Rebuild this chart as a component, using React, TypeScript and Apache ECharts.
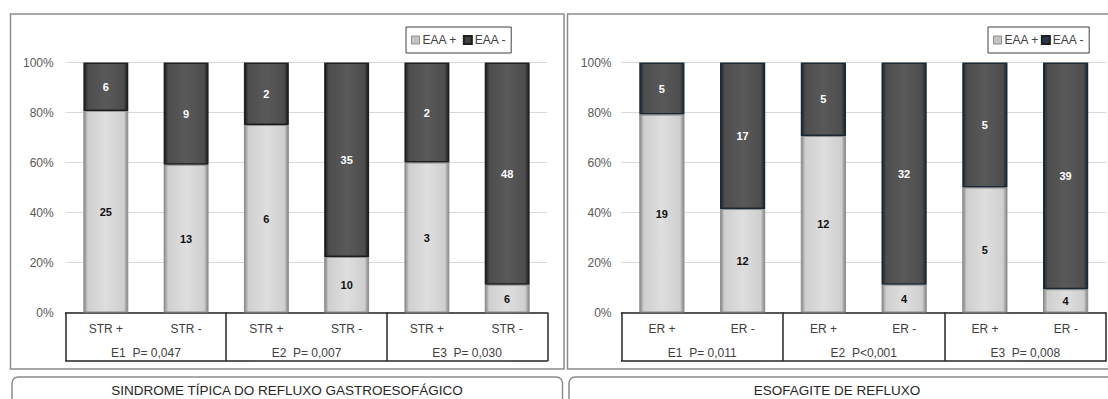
import React, { useEffect, useRef } from "react";
import * as echarts from "echarts";

// Sub-group labels (first row of the data table) and group labels (second row)
const STR_CATEGORIES = ["STR +", "STR -", "STR +", "STR -", "STR +", "STR -"];
const STR_GROUPS = ["E1  P= 0,047", "E2  P= 0,007", "E3  P= 0,030"];
const ER_CATEGORIES = ["ER +", "ER -", "ER +", "ER -", "ER +", "ER -"];
const ER_GROUPS = ["E1  P= 0,011", "E2  P<0,001", "E3  P= 0,008"];

// Patient counts per bar
const STR_EAA_POS = [25, 13, 6, 10, 3, 6];
const STR_EAA_NEG = [6, 9, 2, 35, 2, 48];
const ER_EAA_POS = [19, 12, 12, 4, 5, 4];
const ER_EAA_NEG = [5, 17, 5, 32, 5, 39];

const SERIES_NAMES = ["EAA +", "EAA -"];
const PANEL_TITLES = ["SINDROME TÍPICA DO REFLUXO GASTROESOFÁGICO", "ESOFAGITE DE REFLUXO"];

// Layout of the two panels (pixels)
const PLOT_TOP = 62.5;
const PLOT_HEIGHT = 250;
const TABLE_HEIGHT = 48.5;
const PANELS = [
  { left: 65.7, width: 481.6, labelMargin: 12, legendLeft: 406, frameX: 10.5, frameW: 553.5, titleX: 287 },
  { left: 621.5, width: 484.5, labelMargin: 10, legendLeft: 988, frameX: 567.5, frameW: 560, titleX: 837 },
];

const FONT = "Arial, 'Liberation Sans', sans-serif";

// horizontal gradient giving the bars a bevelled look
const bevel = (edge: string, mid: string, face: string) =>
  new echarts.graphic.LinearGradient(1, 0, 0, 0, [
    { offset: 0, color: edge },
    { offset: 0.09, color: mid },
    { offset: 0.5, color: face },
    { offset: 0.91, color: mid },
    { offset: 1, color: edge },
  ]);

const share = (a: number[], b: number[]) => a.map((v, i) => (v / (v + b[i])) * 100);

export default function App() {
  const ref = useRef<HTMLDivElement>(null);

  useEffect(() => {
    if (!ref.current) return;
    const chart = echarts.init(ref.current, undefined, { renderer: "svg" });

    const panelsData = [
      { cats: STR_CATEGORIES, groups: STR_GROUPS, pos: STR_EAA_POS, neg: STR_EAA_NEG, darkEdge: "#1e1e1e" },
      { cats: ER_CATEGORIES, groups: ER_GROUPS, pos: ER_EAA_POS, neg: ER_EAA_NEG, darkEdge: "#1c2735" },
    ];

    const grid: any[] = [];
    const xAxis: any[] = [];
    const yAxis: any[] = [];
    const series: any[] = [];
    const legend: any[] = [];
    const graphic: any[] = [];

    panelsData.forEach((pd, p) => {
      const layout = PANELS[p];
      grid.push({ left: layout.left, width: layout.width, top: PLOT_TOP, height: PLOT_HEIGHT });

      // first table row: sub-group labels, axis line forms the table top
      xAxis.push({
        type: "category",
        gridIndex: p,
        data: pd.cats,
        position: "bottom",
        axisLine: { show: true, lineStyle: { color: "#262626", width: 1.5 } },
        axisTick: { show: false },
        axisLabel: { margin: 10, fontSize: 12, color: "#404040", fontFamily: FONT },
      });
      // second table row: group labels, ticks form the dividers, line forms the table bottom
      xAxis.push({
        type: "category",
        gridIndex: p,
        data: pd.groups,
        position: "bottom",
        offset: TABLE_HEIGHT,
        axisLine: { show: true, lineStyle: { color: "#262626", width: 1.5 } },
        axisTick: { show: true, inside: true, length: TABLE_HEIGHT, lineStyle: { color: "#262626", width: 1.5 } },
        axisLabel: { inside: true, margin: 2, fontSize: 12, color: "#404040", fontFamily: FONT },
      });

      yAxis.push({
        type: "value",
        gridIndex: p,
        min: 0,
        max: 100,
        interval: 20,
        axisLine: { show: false },
        axisTick: { show: false },
        axisLabel: { formatter: "{value}%", fontSize: 12, color: "#595959", margin: layout.labelMargin, fontFamily: FONT },
        splitLine: { lineStyle: { color: "#d9d9d9", width: 1 } },
      });

      const posPct = share(pd.pos, pd.neg);
      const negPct = share(pd.neg, pd.pos);

      series.push({
        name: SERIES_NAMES[0],
        type: "bar",
        xAxisIndex: 2 * p,
        yAxisIndex: p,
        stack: "panel" + p,
        barWidth: "56%",
        data: posPct,
        itemStyle: {
          color: bevel("#858585", "#cfcfcf", "#dedede"),
          borderColor: "#8f8f8f",
          borderWidth: 1,
        },
        label: {
          show: true,
          position: "inside",
          formatter: (prm: any) => String(pd.pos[prm.dataIndex]),
          color: "#111111",
          fontWeight: "bold",
          fontSize: 11,
          fontFamily: FONT,
        },
      });
      series.push({
        name: SERIES_NAMES[1],
        type: "bar",
        xAxisIndex: 2 * p,
        yAxisIndex: p,
        stack: "panel" + p,
        barWidth: "56%",
        data: negPct,
        itemStyle: {
          color: bevel(pd.darkEdge, "#4d4d4d", "#595959"),
          borderColor: pd.darkEdge,
          borderWidth: 1.5,
        },
        label: {
          show: true,
          position: "inside",
          formatter: (prm: any) => String(pd.neg[prm.dataIndex]),
          color: "#ffffff",
          fontWeight: "bold",
          fontSize: 11,
          fontFamily: FONT,
        },
      });

      legend.push({
        left: layout.legendLeft,
        top: 27,
        orient: "horizontal",
        padding: [7, 5, 7, 5],
        itemWidth: 8,
        itemHeight: 8,
        itemGap: p === 0 ? 6 : 2,
        icon: "rect",
        borderColor: "#404040",
        borderWidth: 1,
        selectedMode: false,
        textStyle: { fontSize: 12, color: "#404040", fontFamily: FONT, padding: [0, 0, 0, -2] },
        data: [
          { name: SERIES_NAMES[0], itemStyle: { color: "#c4c4c4", borderColor: "#8e8e8e", borderWidth: 1 } },
          { name: SERIES_NAMES[1], itemStyle: { color: p === 0 ? "#404040" : "#25364d" } },
        ],
      });

      // panel frame
      graphic.push({
        type: "rect",
        shape: { x: layout.frameX, y: 14, width: layout.frameW, height: 355 },
        style: { fill: "none", stroke: "#8c8c8c", lineWidth: 1.5 },
        silent: true,
      });
      // title box below the panel
      graphic.push({
        type: "rect",
        shape: { x: layout.frameX + 1.5, y: 377, width: layout.frameW - 3, height: 40, r: 6 },
        style: { fill: "none", stroke: "#8c8c8c", lineWidth: 1.5 },
        silent: true,
      });
      graphic.push({
        type: "text",
        x: layout.titleX,
        y: 390,
        style: {
          text: PANEL_TITLES[p],
          fill: "#262626",
          font: "13.5px " + FONT,
          textAlign: "center",
          textVerticalAlign: "middle",
        },
        silent: true,
      });
    });

    chart.setOption({
      animation: false,
      backgroundColor: "#ffffff",
      grid,
      xAxis,
      yAxis,
      series,
      legend,
      graphic,
    });

    return () => chart.dispose();
  }, []);

  return (
    <div
      ref={ref}
      style={{ position: "fixed", left: 0, top: 0, width: 1108, height: 399, background: "#ffffff" }}
    />
  );
}
